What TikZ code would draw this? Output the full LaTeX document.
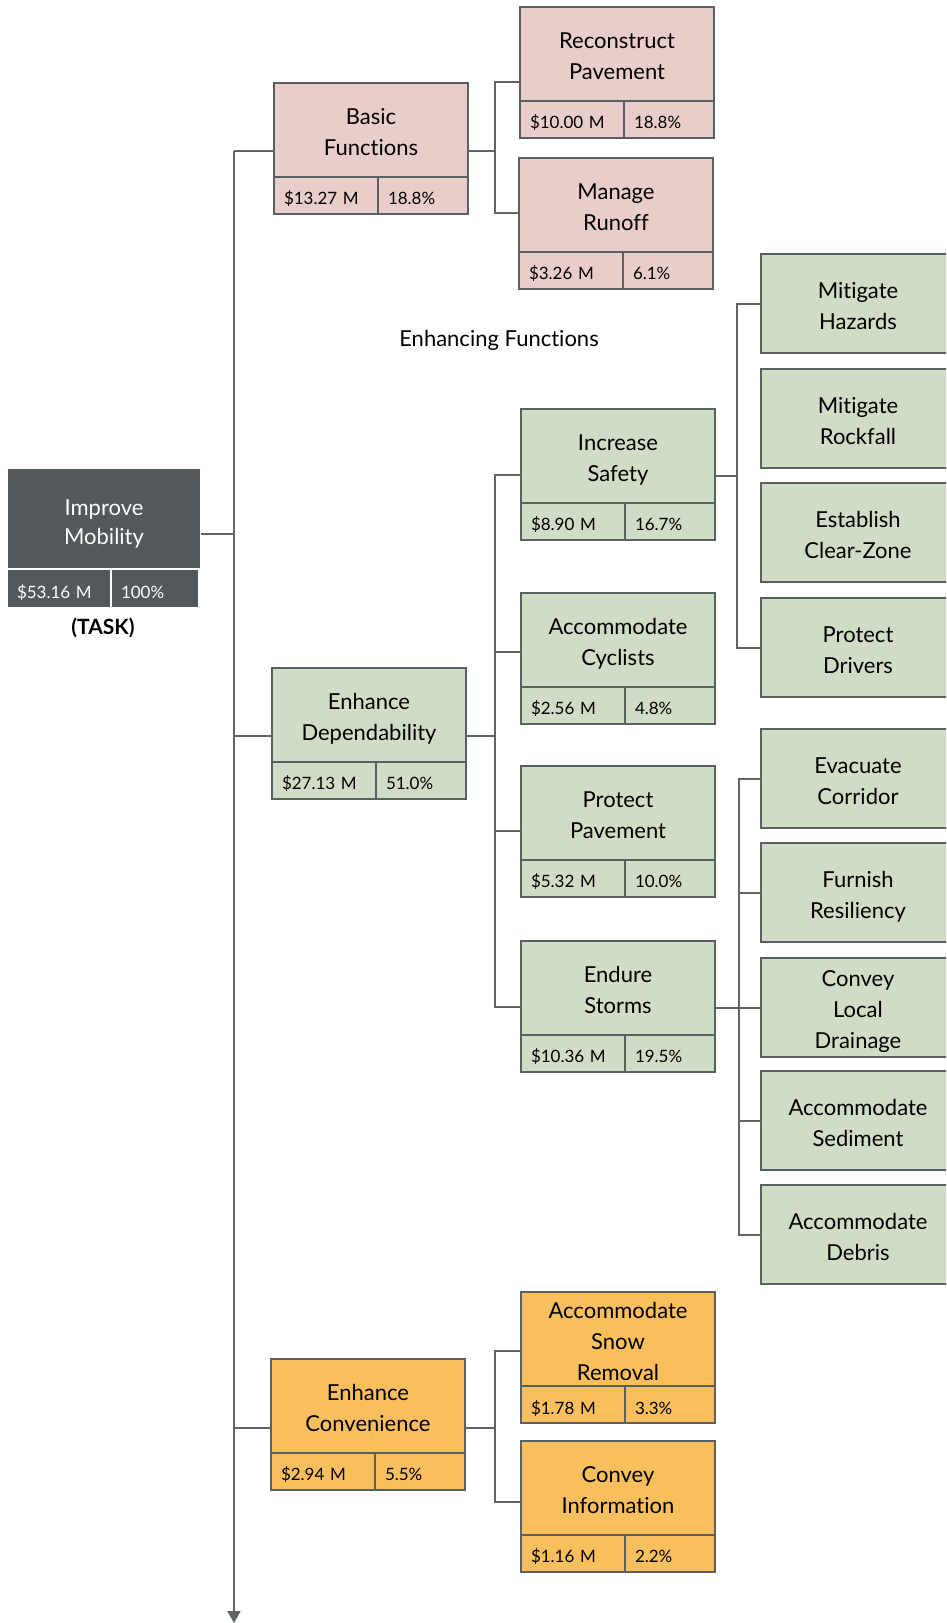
\documentclass[tikz,border=0pt]{standalone}
\usepackage{fontspec}
\setmainfont{Lato}[Ligatures={NoCommon}]
\usetikzlibrary{arrows.meta}
\definecolor{pinkf}{HTML}{E9CDCA}
\definecolor{greenf}{HTML}{D0DCC5}
\definecolor{orangef}{HTML}{F8BF5C}
\definecolor{darkf}{HTML}{53585A}
\definecolor{edgec}{HTML}{5A5F61}
\definecolor{linec}{HTML}{5F6466}
\newcommand{\ttxt}[1]{\rule{0pt}{26.4pt}#1\rule[-6pt]{0pt}{6pt}}
\newcommand{\rtxt}[1]{\rule{0pt}{28pt}#1\rule[-6pt]{0pt}{6pt}}
\tikzset{
  pinkbox/.style={fill=pinkf},
  greenbox/.style={fill=greenf},
  orangebox/.style={fill=orangef},
  boxtitle/.style={draw=edgec, line width=2pt, outer sep=0pt, inner sep=0pt,
    minimum width=194pt, minimum height=94pt, align=center,
    font=\fontsize{22}{31}\selectfont},
  boxcell/.style={draw=edgec, line width=2pt, outer sep=0pt, inner xsep=10pt, inner ysep=0pt,
    minimum height=37pt, align=left, text height=18.2pt, text depth=0pt,
    font=\fontsize{17}{20}\selectfont},
  leafbox/.style={draw=edgec, line width=2pt, outer sep=0pt, inner sep=0pt, fill=greenf,
    minimum width=194pt, minimum height=99pt, align=center,
    font=\fontsize{22}{31}\selectfont},
  roottitle/.style={fill=darkf, draw=white, line width=2pt, outer sep=0pt, inner sep=0pt,
    minimum width=194pt, minimum height=101pt, align=center, text=white,
    font=\fontsize{22}{29}\selectfont},
  rootcell/.style={fill=darkf, draw=white, line width=2pt, outer sep=0pt, inner xsep=10pt, inner ysep=0pt,
    minimum height=39pt, align=left, text=white, text height=19.6pt, text depth=0pt,
    font=\fontsize{17}{20}\selectfont},
  conn/.style={draw=linec, line width=2pt},
  plaintext/.style={font=\fontsize{22}{26}\selectfont, inner sep=0pt},
}
% name, colour style, left, top, title, cost, share
\newcommand{\fnbox}[7]{%
  \node[boxtitle,#2,anchor=north west] (#1) at (#3,#4) {\ttxt{#5}};
  \node[boxcell,#2,anchor=north west,text width=84pt] (#1-c) at (#1.south west) {#6};
  \node[boxcell,#2,anchor=north east,text width=70pt] (#1-p) at (#1.south east) {#7};
}
\begin{document}
\begin{tikzpicture}[x=1pt,y=-1pt]
\useasboundingbox (0,0) rectangle (946,1623);
\clip (0,0) rectangle (946,1623);

% root
\node[roottitle,anchor=north west] (root) at (7,468) {\rtxt{Improve\\Mobility}};
\node[rootcell,anchor=north west,text width=84pt] (root-c) at (root.south west) {\$53.16 M};
\node[rootcell,anchor=north east,text width=68pt] (root-p) at ([xshift=-2pt]root.south east) {100\%};
\node[font=\bfseries\fontsize{21}{24}\selectfont, inner sep=0pt] (task) at (103,628) {(TASK)};

% basic functions
\fnbox{basic}{pinkbox}{274}{83}{Basic\\Functions}{\$13.27 M}{18.8\%}
\fnbox{recon}{pinkbox}{520}{7}{Reconstruct\\Pavement}{\$10.00 M}{18.8\%}
\fnbox{runoff}{pinkbox}{519}{158}{Manage\\Runoff}{\$3.26 M}{6.1\%}

\node[plaintext, anchor=base] (enh) at (499,346.5) {Enhancing Functions};

% dependability
\fnbox{dep}{greenbox}{272}{668}{Enhance\\Dependability}{\$27.13 M}{51.0\%}
\fnbox{safety}{greenbox}{521}{409}{Increase\\Safety}{\$8.90 M}{16.7\%}
\fnbox{cycl}{greenbox}{521}{593}{Accommodate\\Cyclists}{\$2.56 M}{4.8\%}
\fnbox{ppav}{greenbox}{521}{766}{Protect\\Pavement}{\$5.32 M}{10.0\%}
\fnbox{storms}{greenbox}{521}{941}{Endure\\Storms}{\$10.36 M}{19.5\%}

% leaves
\node[leafbox,anchor=north west] (haz) at (761,254) {\ttxt{Mitigate\\Hazards}};
\node[leafbox,anchor=north west] (rock) at (761,369) {\ttxt{Mitigate\\Rockfall}};
\node[leafbox,anchor=north west] (clear) at (761,483) {\ttxt{Establish\\Clear-Zone}};
\node[leafbox,anchor=north west] (drv) at (761,598) {\ttxt{Protect\\Drivers}};
\node[leafbox,anchor=north west] (evac) at (761,729) {\ttxt{Evacuate\\Corridor}};
\node[leafbox,anchor=north west] (furn) at (761,843) {\ttxt{Furnish\\Resiliency}};
\node[leafbox,anchor=north west] (cld) at (761,958) {\ttxt{Convey\\Local\\Drainage}};
\node[leafbox,anchor=north west] (sed) at (761,1071) {\ttxt{Accommodate\\Sediment}};
\node[leafbox,anchor=north west] (deb) at (761,1185) {\ttxt{Accommodate\\Debris}};

% convenience
\fnbox{conv}{orangebox}{271}{1359}{Enhance\\Convenience}{\$2.94 M}{5.5\%}
\fnbox{snow}{orangebox}{521}{1292}{Accommodate\\Snow\\Removal}{\$1.78 M}{3.3\%}
\fnbox{info}{orangebox}{521}{1441}{Convey\\Information}{\$1.16 M}{2.2\%}

% connector coordinates
\coordinate (trunktop) at (234,151);
\coordinate (trunkend) at (234,1623);
\coordinate (j0) at (234,534);
\coordinate (j2) at (234,735.7);
\coordinate (j3) at (234,1428.3);
\coordinate (b0) at (495,82);
\coordinate (b1) at (495,151);
\coordinate (b2) at (495,212.7);
\coordinate (d0) at (495,475.3);
\coordinate (d1) at (495,735.7);
\coordinate (d2) at (495,652.3);
\coordinate (d3) at (495,831);
\coordinate (d4) at (495,1007.3);
\coordinate (s0) at (736.7,475.5);
\coordinate (t0) at (738.5,1007.3);
\coordinate (c0) at (495,1351.3);
\coordinate (c1) at (495,1428.3);
\coordinate (c2) at (495,1501.7);

% trunk
\draw[conn,-{Triangle[width=13pt,length=12pt]}] (trunktop) -- (trunkend);
\draw[conn] (trunktop) -- (basic.west |- trunktop);
\draw[conn] (root.east |- j0) -- (j0);
\draw[conn] (j2) -- (dep.west |- j2);
\draw[conn] (j3) -- (conv.west |- j3);

% basic branch
\draw[conn] (basic.east |- b1) -- (b1);
\draw[conn] (recon.west |- b0) -- (b0) -- (b2) -- (runoff.west |- b2);

% dependability branch
\draw[conn] (dep.east |- d1) -- (d1);
\draw[conn] (safety.west |- d0) -- (d0) -- (d4) -- (storms.west |- d4);
\draw[conn] (d2) -- (cycl.west |- d2);
\draw[conn] (d3) -- (ppav.west |- d3);

% safety leaves
\draw[conn] (safety.east |- s0) -- (s0);
\draw[conn] (haz.west) -- (haz.west -| s0) -- (drv.west -| s0) -- (drv.west);

% storms leaves
\draw[conn] (storms.east |- cld.west) -- (cld.west);
\draw[conn] (evac.west) -- (evac.west -| t0) -- (deb.west -| t0) -- (deb.west);
\draw[conn] (furn.west -| t0) -- (furn.west);
\draw[conn] (sed.west -| t0) -- (sed.west);

% convenience branch
\draw[conn] (conv.east |- c1) -- (c1);
\draw[conn] (snow.west |- c0) -- (c0) -- (c2) -- (info.west |- c2);
\end{tikzpicture}
\end{document}
